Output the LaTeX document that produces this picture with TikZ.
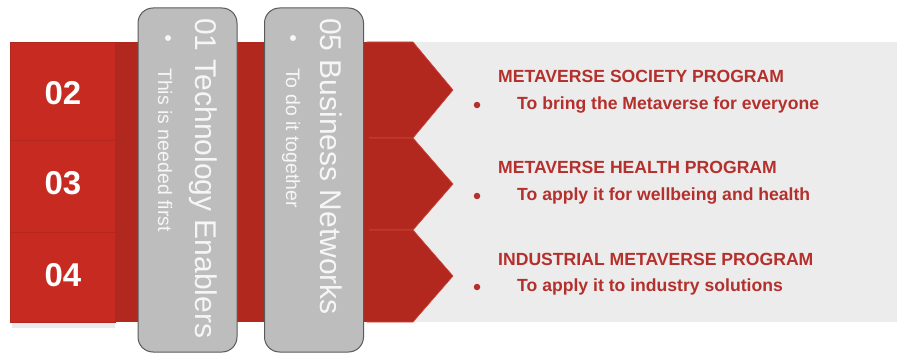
\documentclass[tikz,border=0pt]{standalone}
\usepackage{fontspec}
\setmainfont{Liberation Sans}
\definecolor{panelgray}{RGB}{236,236,236}
\definecolor{boxred}{RGB}{198,42,32}
\definecolor{bandred}{RGB}{176,40,30}
\definecolor{chevred}{RGB}{178,40,30}
\definecolor{seamred}{RGB}{205,70,58}
\definecolor{pillarfill}{RGB}{189,189,189}
\definecolor{pillarline}{RGB}{90,90,90}
\definecolor{pillartext}{RGB}{246,246,246}
\definecolor{txtred}{RGB}{180,48,44}
\begin{document}
\begin{tikzpicture}[x=1pt,y=-1pt,
  numbox/.style={fill=boxred,draw=bandred,line width=1pt,minimum width=105pt,inner sep=0pt,anchor=north west},
  numtext/.style={text=white,font=\fontsize{33}{33}\selectfont\bfseries,inner sep=0pt,anchor=base},
  pillar/.style={fill=pillarfill,draw=pillarline,line width=1pt,rounded corners=15pt,minimum width=99pt,minimum height=344pt,inner sep=0pt},
  ptitle/.style={text=pillartext,font=\fontsize{30}{30}\selectfont,rotate=-90,anchor=base west,inner sep=0pt},
  psub/.style={text=pillartext,font=\fontsize{19.5}{19.5}\selectfont,rotate=-90,anchor=base west,inner sep=0pt},
  pdot/.style={circle,fill=pillartext,minimum size=6pt,inner sep=0pt},
  head/.style={text=txtred,font=\fontsize{17.6}{18}\selectfont\bfseries,anchor=base west,inner sep=0pt},
  sub/.style={text=txtred,font=\fontsize{17.6}{18}\selectfont\bfseries,anchor=base west,inner sep=0pt},
  rdot/.style={circle,fill=txtred,minimum size=6.5pt,inner sep=0pt},
  chev/.style={fill=chevred,draw=seamred,line width=0.6pt}]
\useasboundingbox (0,0) rectangle (900,353);
% background panel
\fill[panelgray] (380,42) rectangle (897,322);
% faint shadow under number boxes
\fill[black!8] (12,322) rectangle (115,328);
% dark red band
\fill[bandred] (112,42) rectangle (370,322);
% chevrons
\draw[chev] (367,42) -- (413,42) -- (453,90) -- (413,138) -- (367,138) -- cycle;
\draw[chev] (367,138) -- (413,138) -- (453,184) -- (413,230) -- (367,230) -- cycle;
\draw[chev] (367,230) -- (413,230) -- (453,276) -- (413,322) -- (367,322) -- cycle;
\fill[chevred] (366,43) rectangle (369,321);
% number boxes
\node[numbox,minimum height=98pt] (b2) at (10,42) {};
\node[numbox,minimum height=92pt] (b3) at (10,140) {};
\node[numbox,minimum height=90pt] (b4) at (10,232) {};
\node[numtext] (n2) at (63,104) {02};
\node[numtext] (n3) at (63,194) {03};
\node[numtext] (n4) at (63,286) {04};
% pillars
\node[pillar] (p1) at (187.5,180) {};
\node[pillar] (p2) at (314,180) {};
\node[ptitle] (t1) at (195,18) {01 Technology Enablers};
\node[pdot] (d1) at (168,38) {};
\node[psub] (s1) at (158,68) {This is needed first};
\node[ptitle] (t2) at (320,18) {05 Business Networks};
\node[pdot] (d2) at (293,38) {};
\node[psub] (s2) at (286,68) {To do it together};
% right texts
\node[head] (h1) at (498,83) {METAVERSE SOCIETY PROGRAM};
\node[rdot] (r1) at (477,105) {};
\node[sub] (u1) at (517,110) {To bring the Metaverse for everyone};
\node[head] (h2) at (498,173) {METAVERSE HEALTH PROGRAM};
\node[rdot] (r2) at (477,196) {};
\node[sub] (u2) at (517,200) {To apply it for wellbeing and health};
\node[head] (h3) at (498,265) {INDUSTRIAL METAVERSE PROGRAM};
\node[rdot] (r3) at (477,287) {};
\node[sub] (u3) at (517,291) {To apply it to industry solutions};
\end{tikzpicture}
\end{document}
